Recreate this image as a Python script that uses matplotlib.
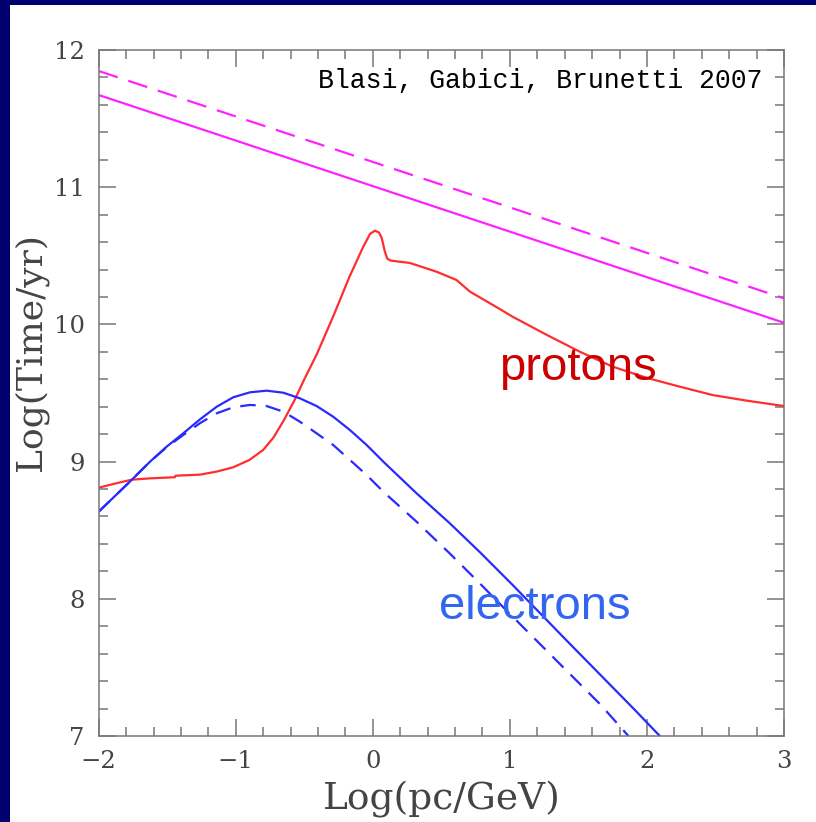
import matplotlib
matplotlib.use("Agg")
import matplotlib.pyplot as plt
from matplotlib.patches import Rectangle

# Data (log10 units)
mag_x = [-2, 3]
mag_solid = [11.672, 10.012]
mag_dashed = [11.847, 10.19]

prot_x = [-2, -1.88, -1.76, -1.625, -1.445, -1.44, -1.26, -1.14, -1.02, -0.90,
          -0.80, -0.725, -0.65, -0.57, -0.50, -0.41, -0.29, -0.17, -0.07, -0.02,
          0.015, 0.045, 0.065, 0.088, 0.105, 0.13, 0.27, 0.465, 0.61, 0.71,
          0.93, 1.02, 1.27, 1.51, 1.75, 2.0, 2.24, 2.48, 2.73, 3.0]
prot_y = [8.81, 8.84, 8.868, 8.878, 8.886, 8.897, 8.905, 8.927, 8.958, 9.012,
          9.085, 9.175, 9.30, 9.45, 9.60, 9.78, 10.056, 10.348, 10.566, 10.66,
          10.683, 10.67, 10.63, 10.53, 10.48, 10.465, 10.448, 10.384, 10.324, 10.238,
          10.11, 10.056, 9.923, 9.801, 9.692, 9.61, 9.546, 9.485, 9.444, 9.405]

el_x = [-2, -1.76, -1.625, -1.504, -1.383, -1.261, -1.139, -1.018, -0.896, -0.775,
        -0.653, -0.532, -0.41, -0.289, -0.167, -0.045, 0.076, 0.319, 0.562, 0.781,
        1.02, 1.41, 1.90, 2.094]
el_y = [8.635, 8.866, 9.0, 9.109, 9.206, 9.308, 9.40, 9.469, 9.505, 9.517,
        9.502, 9.461, 9.405, 9.327, 9.23, 9.121, 9.0, 8.769, 8.55, 8.34,
        8.101, 7.70, 7.202, 7.0]

eld_x = [-2, -1.76, -1.625, -1.504, -1.383, -1.261, -1.139, -1.018, -0.896, -0.775,
         -0.653, -0.532, -0.41, -0.289, -0.167, -0.045, 0.076, 0.319, 0.562, 0.78,
         0.95, 1.17, 1.41, 1.66, 1.865]
eld_y = [8.635, 8.866, 9.0, 9.105, 9.194, 9.28, 9.352, 9.396, 9.413, 9.405,
         9.364, 9.291, 9.206, 9.121, 9.012, 8.902, 8.781, 8.562, 8.33, 8.113,
         7.94, 7.72, 7.48, 7.23, 7.0]

fig = plt.figure(figsize=(8.16, 8.22), dpi=100, facecolor="#00006e")
# white slide panel behind the axes
panel = Rectangle((10 / 816, 0), 1, 1 - 5 / 822, transform=fig.transFigure,
                  facecolor="white", edgecolor="none", zorder=-10)
fig.add_artist(panel)

ax = fig.add_axes([98.7 / 816, 1 - 736 / 822, (784 - 98.7) / 816, (736 - 50) / 822])
ax.set_zorder(1)
ax.set_facecolor("white")

ax.plot(mag_x, mag_solid, color="#ff22ff", lw=1.6)
ax.plot(mag_x, mag_dashed, color="#ff22ff", lw=1.6, dashes=(9, 5))
ax.plot(prot_x, prot_y, color="#ff2e2e", lw=1.6)
ax.plot(eld_x, eld_y, color="#2a2aff", lw=1.6, dashes=(7, 4.5))
ax.plot(el_x, el_y, color="#2a2aff", lw=1.6)

ax.set_xlim(-2, 3)
ax.set_ylim(7, 12)
ax.set_xticks([-2, -1, 0, 1, 2, 3])
ax.set_yticks([7, 8, 9, 10, 11, 12])
ax.set_xticklabels(["\u22122", "\u22121", "0", "1", "2", "3"])
ax.xaxis.set_minor_locator(matplotlib.ticker.MultipleLocator(0.2))
ax.yaxis.set_minor_locator(matplotlib.ticker.MultipleLocator(0.2))
ax.tick_params(which="both", direction="in", top=True, right=True, color="#777777",
               width=1.1, labelcolor="#444444", labelsize=17.5)
ax.tick_params(which="major", length=12, pad=10)
ax.tick_params(which="minor", length=6.5)
for lab in ax.get_xticklabels() + ax.get_yticklabels():
    lab.set_family("DejaVu Serif")
for s in ax.spines.values():
    s.set_color("#777777")
    s.set_linewidth(1.1)

ax.set_xlabel("Log(pc/GeV)", family="DejaVu Serif", fontsize=27, color="#444444")
ax.xaxis.set_label_coords(0.5, -0.066)
ax.set_ylabel("Log(Time/yr)", family="DejaVu Serif", fontsize=26, color="#444444")
ax.yaxis.set_label_coords(-0.074, 0.56)

ax.text(2.845, 11.723, "Blasi, Gabici, Brunetti 2007", family="Liberation Mono",
        fontsize=19.1, ha="right", va="baseline", color="black")
ax.text(1.496, 9.68, "protons", family="Liberation Sans", fontsize=34,
        ha="center", va="center", color="#cc0000")
ax.text(1.183, 7.94, "electrons", family="Liberation Sans", fontsize=34,
        ha="center", va="center", color="#3366ee")

fig.savefig("out.png", dpi=100, facecolor=fig.get_facecolor())
